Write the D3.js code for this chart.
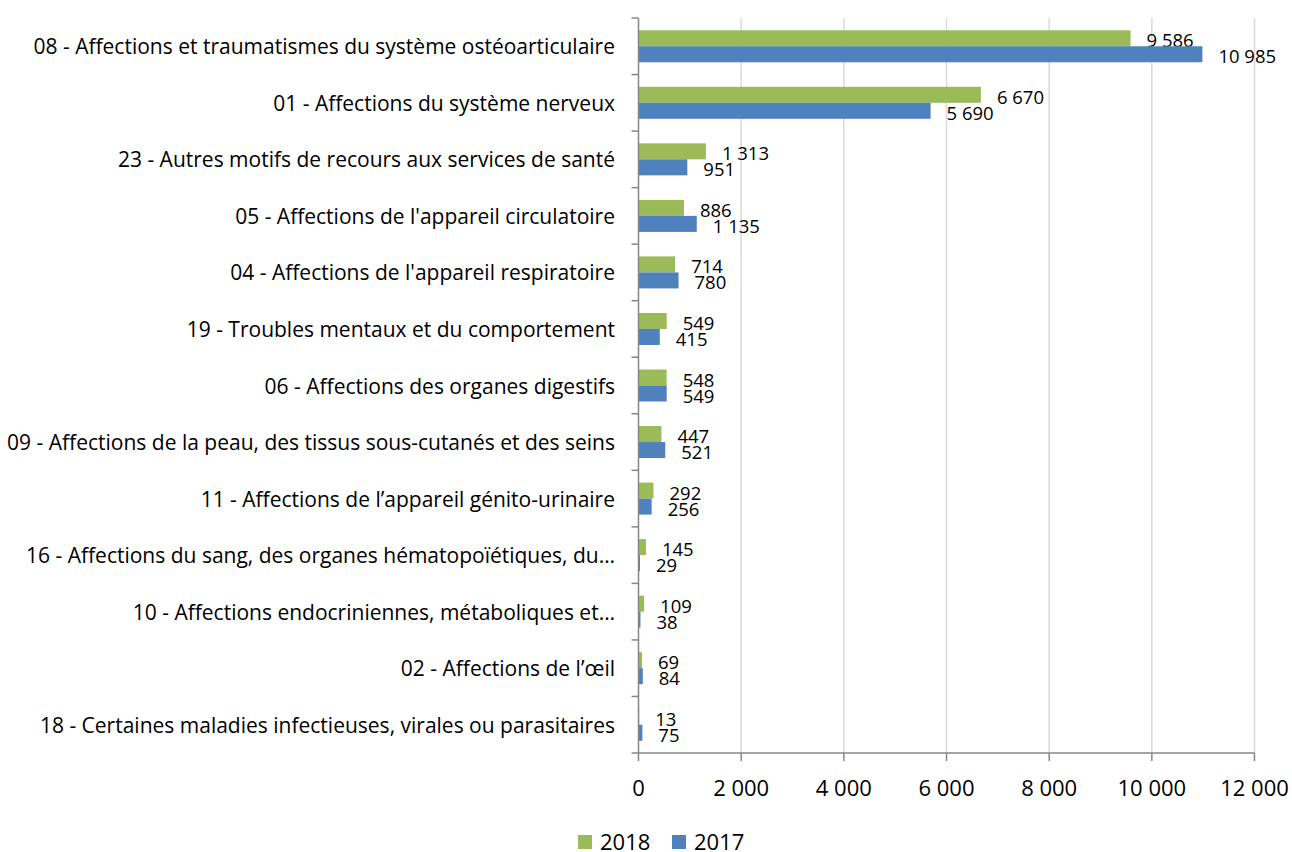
<!DOCTYPE html>
<html><head><meta charset="utf-8">
<script src="https://cdn.jsdelivr.net/npm/d3@7"></script>
<style>body{margin:0;background:#fff;}svg{display:block;font-family:"Open Sans","Liberation Sans",Arial,sans-serif;}</style>
</head><body><svg id="c" width="1292" height="852"></svg>
<script>
const categories = [
  "08 - Affections et traumatismes du système ostéoarticulaire",
  "01 - Affections du système nerveux",
  "23 - Autres motifs de recours aux services de santé",
  "05 - Affections de l'appareil circulatoire",
  "04 - Affections de l'appareil respiratoire",
  "19 - Troubles mentaux et du comportement",
  "06 - Affections des organes digestifs",
  "09 - Affections de la peau, des tissus sous-cutanés et des seins",
  "11 - Affections de l’appareil génito-urinaire",
  "16 - Affections du sang, des organes hématopoïétiques, du…",
  "10 - Affections endocriniennes, métaboliques et…",
  "02 - Affections de l’œil",
  "18 - Certaines maladies infectieuses, virales ou parasitaires"
];
const values2018 = [9586, 6670, 1313, 886, 714, 549, 548, 447, 292, 145, 109, 69, 13];
const values2017 = [10985, 5690, 951, 1135, 780, 415, 549, 521, 256, 29, 38, 84, 75];
const seriesNames = ["2018", "2017"];
const xTicks = [0, 2000, 4000, 6000, 8000, 10000, 12000];
const colors = ["#9BBB59", "#4F81BD"];

const fr = d3.formatLocale({decimal: ",", thousands: "\u00a0", grouping: [3], currency: ["", " €"]});
const fmt = fr.format(",d");

const svg = d3.select("#c");
const pLeft = 638.5, pRight = 1254.5, pTop = 18, pBottom = 753;
const x = d3.scaleLinear().domain([0, 12000]).range([pLeft, pRight]);
const y = d3.scaleBand().domain(categories).range([pTop, pBottom]).paddingInner(0).paddingOuter(0);
const barH = 16;

// gridlines
svg.append("g").selectAll("line").data(xTicks.slice(1)).join("line")
  .attr("x1", d => x(d)).attr("x2", d => x(d)).attr("y1", pTop).attr("y2", pBottom)
  .attr("stroke", "#d9d9d9").attr("stroke-width", 1.5);

const series = [values2018, values2017];
series.forEach((vals, si) => {
  const g = svg.append("g");
  g.selectAll("rect").data(categories).join("rect")
    .attr("x", x(0))
    .attr("y", (c) => y(c) + y.bandwidth() / 2 - barH + si * barH)
    .attr("width", (c, i) => x(vals[i]) - x(0))
    .attr("height", barH)
    .attr("fill", colors[si]);
  g.selectAll("text").data(categories).join("text")
    .attr("x", (c, i) => x(vals[i]) + 16)
    .attr("y", (c) => y(c) + y.bandwidth() / 2 - barH / 2 + si * barH + 1.5)
    .attr("dominant-baseline", "central")
    .attr("font-size", 18.5).attr("fill", "#000")
    .text((c, i) => fmt(vals[i]));
});

// y axis
const yAxis = svg.append("g");
yAxis.append("line").attr("x1", pLeft).attr("x2", pLeft).attr("y1", pTop).attr("y2", pBottom)
  .attr("stroke", "#868686").attr("stroke-width", 1.5);
const bounds = categories.map(c => y(c)).concat([pBottom]);
yAxis.selectAll("line.t").data(bounds).join("line").attr("class", "t")
  .attr("x1", pLeft - 7).attr("x2", pLeft).attr("y1", d => d).attr("y2", d => d)
  .attr("stroke", "#868686").attr("stroke-width", 1.5);
yAxis.selectAll("text").data(categories).join("text")
  .attr("x", 615).attr("y", c => y(c) + y.bandwidth() / 2)
  .attr("text-anchor", "end").attr("dominant-baseline", "central")
  .attr("font-size", 21).attr("fill", "#000")
  .text(c => c);

// x axis
const xAxis = svg.append("g");
xAxis.append("line").attr("x1", pLeft).attr("x2", pRight).attr("y1", pBottom).attr("y2", pBottom)
  .attr("stroke", "#868686").attr("stroke-width", 1.5);
xAxis.selectAll("line.t").data(xTicks).join("line").attr("class", "t")
  .attr("x1", d => x(d)).attr("x2", d => x(d)).attr("y1", pBottom).attr("y2", pBottom + 8)
  .attr("stroke", "#868686").attr("stroke-width", 1.5);
xAxis.selectAll("text").data(xTicks).join("text")
  .attr("x", d => x(d)).attr("y", 787)
  .attr("text-anchor", "middle").attr("dominant-baseline", "central")
  .attr("font-size", 22).attr("fill", "#000")
  .text(d => fmt(d));

// legend
const legend = svg.append("g");
const legX = [578, 672];
seriesNames.forEach((s, i) => {
  legend.append("rect").attr("x", legX[i]).attr("y", 835).attr("width", 14).attr("height", 14).attr("fill", colors[i]);
  legend.append("text").attr("x", legX[i] + 22).attr("y", 841).attr("dominant-baseline", "central")
    .attr("font-size", 22).attr("fill", "#000").text(s);
});
</script></body></html>
